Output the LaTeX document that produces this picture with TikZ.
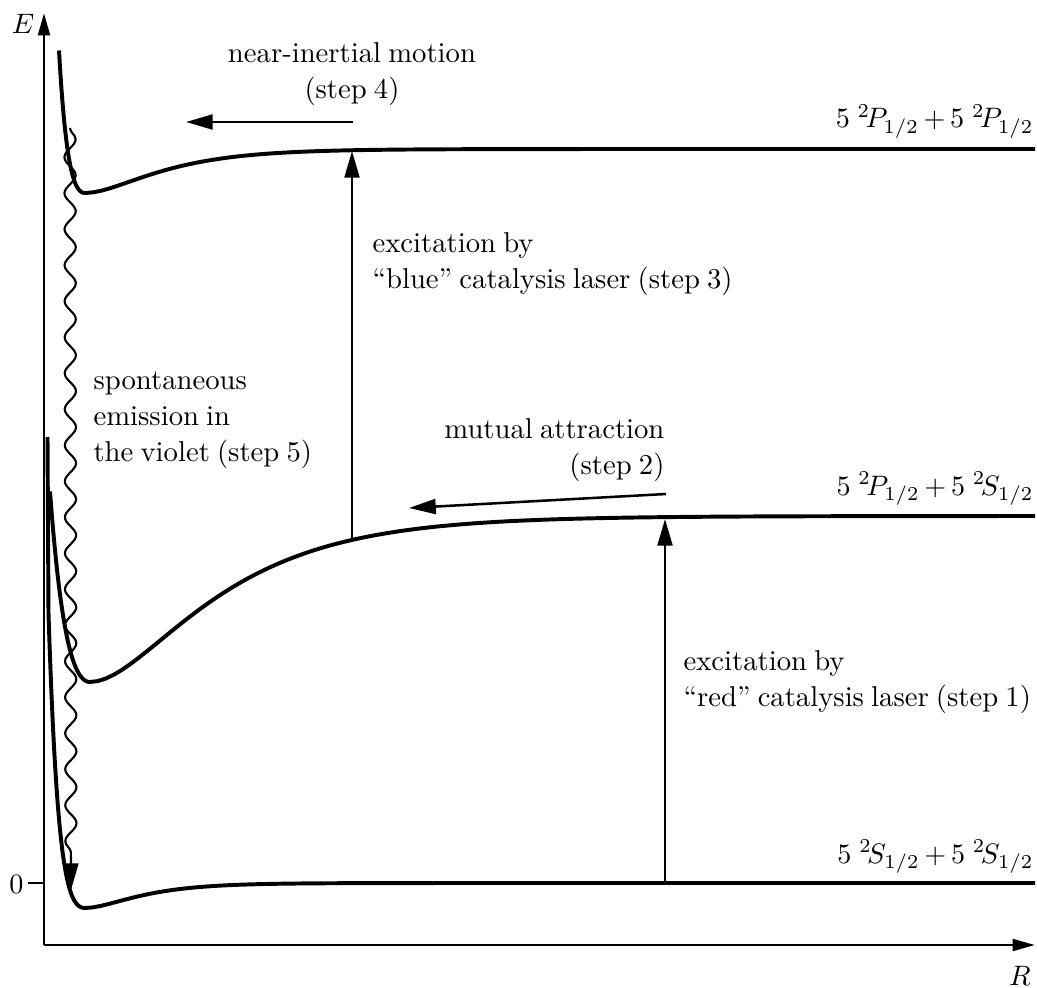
\documentclass[tikz,border=0pt]{standalone}
\usetikzlibrary{arrows.meta,decorations.pathmorphing}
\newcommand\lblfont{\fontsize{10.2}{12.8}\selectfont\spaceskip 0.25em plus 0.1em minus 0.05em\relax}

\begin{document}
\begin{tikzpicture}[x={(0.0125cm,0cm)}, y={(0cm,-0.0125cm)}, >={Triangle[length=9.5pt,width=5.3pt]},
    curve/.style={line width=1.4pt},
    axis/.style={line width=1pt, -{Triangle[length=8pt,width=4.2pt]}},
    move/.style={line width=0.9pt, ->},
    txt/.style={font=\lblfont, inner sep=0pt},
    wavy/.style={line width=0.75pt, ->, decorate,
      decoration={snake, amplitude=2pt, segment length=12.8pt, post length=9pt}}]
  \useasboundingbox (0,0) rectangle (1037,988);

  % 1. 坐标轴
  \coordinate (origin) at (44,945);
  \draw[axis] (origin) -- (44,13) node[txt, anchor=east, xshift=-3pt, yshift=-4pt] (Elab) {$E$};
  \draw[axis] (origin) -- (1035,945) node[txt, anchor=north east, xshift=-1pt, yshift=-7pt] (Rlab) {$R$};
  \draw[line width=1pt] (28,883) -- (44,883);
  \node[txt, anchor=east] (zero) at (24,884) {$0$};

  % 2. 三条势能曲线 (左右两段 Morse 形状)
  \draw[curve, domain=48.5:85, samples=60] (47.5,437) -- plot (\x, {883 - 25*((1-exp(-0.0408*(\x-85)))^2 - 1)})
    -- plot[domain=85:1035, samples=120] (\x, {883 - 25*((1-exp(-0.0216*(\x-85)))^2 - 1)});
  \draw[curve, domain=50:90, samples=40] plot (\x, {516 - 166*((1-exp(-0.0182*(\x-90)))^2 - 1)})
    -- plot[domain=90:1035, samples=120] (\x, {516 - 166*((1-exp(-0.00989*(\x-90)))^2 - 1)});
  \draw[curve, domain=59:85, samples=40] plot (\x, {149 - 44*((1-exp(-0.0396*(\x-85)))^2 - 1)})
    -- plot[domain=85:1035, samples=120] (\x, {149 - 44*((1-exp(-0.0159*(\x-85)))^2 - 1)});

  % 3. 能级标注
  \node[txt, anchor=base east] (PP) at (1034,128) {$5\;{}^2\!P_{1/2}\mkern3mu{+}\mkern3mu5\;{}^2\!P_{1/2}$};
  \node[txt, anchor=base east] (PS) at (1034,495) {$5\;{}^2\!P_{1/2}\mkern3mu{+}\mkern3mu5\;{}^2\!S_{1/2}$};
  \node[txt, anchor=base east] (SS) at (1034,863) {$5\;{}^2\!S_{1/2}\mkern3mu{+}\mkern3mu5\;{}^2\!S_{1/2}$};

  % 4. 各步骤箭头
  \coordinate (redBase) at (665,883);
  \coordinate (redTip) at (665,519);
  \coordinate (blueBase) at (352,540);
  \coordinate (blueTip) at (352,151);
  \coordinate (attrStart) at (666,494);
  \coordinate (attrTip) at (409,508);
  \coordinate (inertStart) at (353,122);
  \coordinate (inertTip) at (186,122);
  \coordinate (emitTop) at (70,128);
  \coordinate (emitTip) at (71,890);
  \draw[move] (redBase) -- (redTip);
  \draw[move] (blueBase) -- (blueTip);
  \draw[move] (attrStart) -- (attrTip);
  \draw[move] (inertStart) -- (inertTip);
  \draw[wavy] (emitTop) -- (emitTip);

  % 5. 文字说明
  \node[txt, anchor=north, align=center] (inertTxt) at (352,42) {near-inertial motion\\(step 4)};
  \node[txt, anchor=north west, align=left] (blueTxt) at (372,232) {excitation by\\``blue'' catalysis laser (step 3)};
  \node[txt, anchor=north west, align=left] (emitTxt) at (93,371) {spontaneous\\emission in\\the violet (step 5)};
  \node[txt, anchor=north east, align=right] (attrTxt) at (665,418) {mutual attraction\\(step 2)};
  \node[txt, anchor=north west, align=left] (redTxt) at (683,650) {excitation by\\``red'' catalysis laser (step 1)};
\end{tikzpicture}
\end{document}
